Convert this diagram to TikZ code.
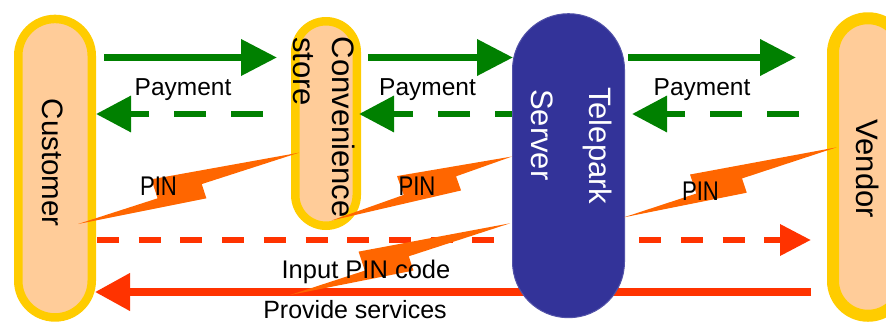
\documentclass[tikz,border=0pt]{standalone}
\usepackage{fontspec}
\setmainfont{Liberation Sans}
\newfontfamily\narrowfont[FakeStretch=0.82]{Liberation Sans}
\usetikzlibrary{arrows.meta,calc}
\pgfdeclarelayer{background}
\pgfsetlayers{background,main}

\definecolor{payg}{HTML}{008000}
\definecolor{pinred}{HTML}{FF3300}
\definecolor{boltor}{HTML}{FF6600}
\definecolor{rimy}{HTML}{FFCC00}
\definecolor{peach}{HTML}{FFCC99}
\definecolor{srvblue}{HTML}{333399}

% lightning bolt from tail #1 to head #2; #3 = position of the lower notch,
% #4 = position of the upper notch (fractions along the bolt)
\newcommand\pinbolt[4]{%
  \fill[boltpaint] (#2)
    -- ($(#1)!#4!(#2)!20pt!90:(#2)$)
    -- ($(#1)!#4!(#2)$)
    -- (#1)
    -- ($(#1)!#3!(#2)!15pt!-90:(#2)$)
    -- ($(#1)!#3!(#2)$)
    -- cycle;}

\tikzset{
  party/.style={draw=rimy, fill=peach, rectangle, inner sep=0pt},
  serverbox/.style={fill=srvblue, draw=srvblue!85!white, line width=1pt, rectangle, inner sep=0pt},
  payline/.style={draw=payg, line width=7pt, -{Triangle[length=36pt,width=35pt]}},
  paydash/.style={draw=payg, line width=6.5pt, dash pattern=on 32pt off 25pt,
                  -{Triangle[length=35pt,width=35pt]}},
  codedash/.style={draw=pinred, line width=6.7pt, dash pattern=on 22pt off 19.7pt,
                   -{Triangle[length=31pt,width=30pt]}},
  serviceline/.style={draw=pinred, line width=7.3pt, -{Triangle[length=35pt,width=36pt]}},
  boltpaint/.style={fill=boltor},
  lbl/.style={inner sep=0pt, text=black},
  rlbl/.style={inner sep=0pt, rotate=-90, anchor=base west},
}

\begin{document}
\begin{tikzpicture}[x=1pt, y=1pt]
  \useasboundingbox (0,0) rectangle (886,-324);
  \clip (0,0) rectangle (886,-324);

  % parties
  \node[party, line width=8.5pt, minimum width=73.5pt, minimum height=298.5pt,
        rounded corners=36.7pt] (cust) at (55,-168.2) {};
  \node[party, line width=8.5pt, minimum width=61.5pt, minimum height=204.5pt,
        rounded corners=30.7pt] (store) at (326,-123.5) {};
  \node[serverbox, minimum width=112pt, minimum height=304pt,
        rounded corners=55.9pt] (server) at (568.5,-165.7) {};
  \node[party, line width=12pt, minimum width=70pt, minimum height=297.5pt,
        rounded corners=34.9pt] (vendor) at (868,-167) {};

  % rows of the message lines
  \coordinate (rowpay) at (0,-57.5);
  \coordinate (rowback) at (0,-114);
  \coordinate (rowcode) at (0,-240);
  \coordinate (rowserv) at (0,-292);

  % payment flow
  \draw[payline] ($(cust.east |- rowpay)+(8,0)$) -- ($(store.west |- rowpay)+(-14,0)$);
  \draw[payline] ($(store.east |- rowpay)+(7,0)$) -- ($(server.west |- rowpay)+(1,0)$);
  \draw[payline] ($(server.east |- rowpay)+(3,0)$) -- ($(vendor.west |- rowpay)+(-31,0)$);

  \draw[paydash] ($(store.west |- rowback)+(-28,0)$) -- (cust.east |- rowback);
  \draw[paydash, dash phase=15pt] (server.west |- rowback) -- ($(store.east |- rowback)+(-2,0)$);
  \draw[paydash] ($(vendor.west |- rowback)+(-28,0)$) -- ($(server.east |- rowback)+(7,0)$);

  % PIN code and services, running behind the server
  \begin{pgfonlayer}{background}
    \draw[codedash] ($(cust.east |- rowcode)+(1,0)$) -- ($(vendor.west |- rowcode)+(-16,0)$);
    \draw[serviceline] ($(vendor.west |- rowserv)+(-16,0)$) -- ($(cust.east |- rowserv)+(-1,0)$);
  \end{pgfonlayer}

  % PIN bolts
  \coordinate (b1t) at (78,-224);    \coordinate (b1h) at (299,-152.7);
  \coordinate (b2t) at (331.5,-220.5); \coordinate (b2h) at (512,-156.5);
  \coordinate (b3t) at (624,-217.3); \coordinate (b3h) at (836.7,-147.3);
  \coordinate (b4t) at (290,-295);   \coordinate (b4h) at (510,-223.3);
  \pinbolt{b1t}{b1h}{0.56}{0.36}
  \pinbolt{b2t}{b2h}{0.69}{0.40}
  \pinbolt{b3t}{b3h}{0.555}{0.34}
  \pinbolt{b4t}{b4h}{0.54}{0.34}

  % message labels
  \node[lbl, anchor=base, font=\fontsize{24.5}{28}\selectfont] (pay1) at (183,-95) {Payment};
  \node[lbl, anchor=base, font=\fontsize{24.5}{28}\selectfont] (pay2) at (427.5,-95) {Payment};
  \node[lbl, anchor=base, font=\fontsize{24.5}{28}\selectfont] (pay3) at (702,-95) {Payment};
  \node[lbl, anchor=base, font=\narrowfont\fontsize{27}{30}\selectfont] (pin1) at (158.5,-195) {PIN};
  \node[lbl, anchor=base, font=\narrowfont\fontsize{27}{30}\selectfont] (pin2) at (417,-195) {PIN};
  \node[lbl, anchor=base, font=\narrowfont\fontsize{27}{30}\selectfont] (pin3) at (700.5,-200) {PIN};
  \node[lbl, anchor=base, font=\fontsize{25.5}{29}\selectfont] (codetxt) at (366,-278) {Input PIN code};
  \node[lbl, anchor=base, font=\fontsize{25}{29}\selectfont] (servtxt) at (355,-318.5) {Provide services};

  % party names
  \node[rlbl, font=\fontsize{29.5}{32}\selectfont] (custtxt) at (42,-98.5) {Customer};
  \node[rlbl, font=\fontsize{31}{34}\selectfont] (storetxtA) at (332,-36.5) {Convenience};
  \node[rlbl, font=\fontsize{31}{34}\selectfont] (storetxtB) at (293,-37) {store};
  \node[rlbl, text=white, font=\fontsize{31}{34}\selectfont] (servertxtA) at (589.5,-87) {Telepark};
  \node[rlbl, text=white, font=\fontsize{31}{34}\selectfont] (servertxtB) at (531,-89) {Server};
  \node[rlbl, font=\fontsize{31}{34}\selectfont] (vendortxt) at (856,-119.5) {Vendor};
\end{tikzpicture}
\end{document}
